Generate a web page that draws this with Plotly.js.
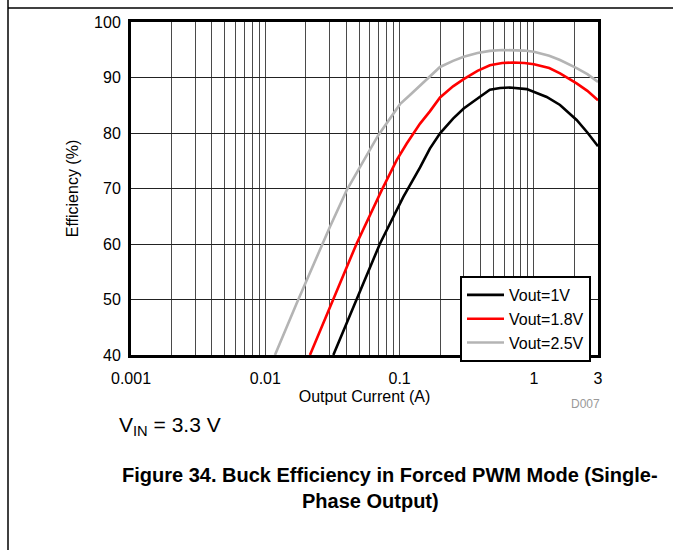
<!DOCTYPE html>
<html>
<head>
<meta charset="utf-8">
<script src="https://cdn.plot.ly/plotly-3.0.1.min.js"></script>
<style>
  html, body { margin: 0; padding: 0; background: #fff; }
  #chart { width: 673px; height: 550px; }
</style>
</head>
<body>
<div id="chart"></div>
<script>
// ---- data ----
const seriesNames = ["Vout=1V", "Vout=1.8V", "Vout=2.5V"];

const x_1V = [0.0321, 0.0479, 0.0715, 0.1066, 0.142, 0.168, 0.2, 0.25, 0.3, 0.35, 0.397, 0.47, 0.56, 0.66, 0.884, 1.245, 1.565, 2.08, 2.5, 3];
const y_1V = [40, 49.9, 60.1, 68.5, 73.8, 77.2, 79.95, 82.6, 84.4, 85.6, 86.6, 87.8, 88.1, 88.2, 87.9, 86.5, 85.05, 82.35, 80.1, 77.6];

const x_18V = [0.0215, 0.0312, 0.0479, 0.0736, 0.0951, 0.113, 0.142, 0.168, 0.2, 0.25, 0.3, 0.38, 0.47, 0.58, 0.7, 0.85, 1.0, 1.3, 1.565, 2.08, 2.5, 3];
const y_18V = [40, 49.3, 60.1, 69.7, 75.1, 78.1, 81.7, 83.9, 86.4, 88.4, 89.7, 91.2, 92.2, 92.6, 92.7, 92.6, 92.4, 91.7, 90.75, 88.95, 87.6, 85.9];

const x_25V = [0.0118, 0.0171, 0.0303, 0.0404, 0.0694, 0.1007, 0.12, 0.142, 0.168, 0.2, 0.25, 0.3, 0.38, 0.47, 0.58, 0.7, 0.85, 1.0, 1.3, 1.565, 2.08, 2.5, 3];
const y_25V = [40, 49.3, 63.1, 69.7, 79.6, 85.2, 86.9, 88.5, 90.2, 91.9, 93.0, 93.75, 94.4, 94.8, 94.95, 94.95, 94.85, 94.65, 93.9, 93.15, 91.7, 90.6, 89.2];

const xTickVals = [0.001, 0.01, 0.1, 1, 3];
const xTickText = ["0.001", "0.01", "0.1", "1", "3"];
const xMinorGridVals = [0.002,0.003,0.004,0.005,0.006,0.007,0.008,0.009,
                        0.02,0.03,0.04,0.05,0.06,0.07,0.08,0.09,
                        0.2,0.3,0.4,0.5,0.6,0.7,0.8,0.9,
                        2];
const yTickVals = [40, 50, 60, 70, 80, 90, 100];
const yTickText = ["40", "50", "60", "70", "80", "90", "100"];

const xTitle = "Output Current (A)";
const yTitle = "Efficiency (%)";
const vinText = "V<sub>IN</sub> = 3.3 V";
const captionLine1 = "Figure 34. Buck Efficiency in Forced PWM Mode (Single-";
const captionLine2 = "Phase Output)";
const codeText = "D007";

// ---- build chart ----
const colors = ["#000000", "#ff0000", "#b4b4b4"];
const xs = [x_1V, x_18V, x_25V];
const ys = [y_1V, y_18V, y_25V];

const traces = seriesNames.map((n, i) => ({
  type: "scatter", mode: "lines", name: n,
  x: xs[i], y: ys[i],
  line: { color: colors[i], width: 2.6, shape: "linear" }
}));

const FONT = "Liberation Sans, Arial, sans-serif";
const L = 131, R = 75, T = 22, B = 195;
const W = 673, H = 550;
const pw = W - L - R, ph = H - T - B;
const px = v => (v - L) / pw;          // pixel -> paper x
const py = v => (H - B - v) / ph;      // pixel -> paper y

const layout = {
  width: W, height: H,
  margin: { l: L, r: R, t: T, b: B, pad: 0 },
  paper_bgcolor: "#ffffff", plot_bgcolor: "#ffffff",
  font: { family: FONT, size: 16, color: "#000" },
  showlegend: true,
  legend: {
    x: px(460), y: py(276), xanchor: "left", yanchor: "top",
    bgcolor: "#ffffff", bordercolor: "#000", borderwidth: 2,
    font: { family: FONT, size: 16, color: "#000" },
    tracegroupgap: 0, itemwidth: 37
  },
  xaxis: {
    type: "log", range: [Math.log10(0.001), Math.log10(3)],
    tickmode: "array", tickvals: xTickVals, ticktext: xTickText,
    ticks: "", showgrid: true, gridcolor: "#4a4a4a", gridwidth: 1,
    minor: { tickmode: "array", tickvals: xMinorGridVals, ticks: "",
             showgrid: true, gridcolor: "#4a4a4a", gridwidth: 1 },
    showline: true, linecolor: "#000", linewidth: 3, mirror: true,
    zeroline: false, tickfont: { family: FONT, size: 16 }, ticklabelstandoff: 7,
    title: { text: xTitle, font: { family: FONT, size: 16 }, standoff: 5 },
    automargin: false, fixedrange: true
  },
  yaxis: {
    range: [40, 100], tickmode: "array", tickvals: yTickVals, ticktext: yTickText,
    ticks: "", showgrid: true, gridcolor: "#222", gridwidth: 1,
    showline: true, linecolor: "#000", linewidth: 3, mirror: true,
    zeroline: false, tickfont: { family: FONT, size: 16 }, ticklabelstandoff: 4,
    title: { text: yTitle, font: { family: FONT, size: 16 }, standoff: 12 },
    automargin: false, fixedrange: true
  },
  shapes: [
    { type: "line", xref: "paper", yref: "paper", x0: px(8), x1: px(8), y0: py(0), y1: py(550),
      line: { color: "#000", width: 1.5 } },
    { type: "line", xref: "paper", yref: "paper", x0: px(8), x1: px(673), y0: py(8), y1: py(8),
      line: { color: "#000", width: 1.5 } }
  ],
  annotations: [
    { text: codeText, xref: "paper", yref: "paper", x: px(585), y: py(404),
      xanchor: "center", yanchor: "middle", showarrow: false,
      font: { family: FONT, size: 12, color: "#999" } },
    { text: vinText, xref: "paper", yref: "paper", x: px(117), y: py(426),
      xanchor: "left", yanchor: "middle", showarrow: false,
      font: { family: FONT, size: 21, color: "#000" } },
    { text: "<b>" + captionLine1 + "</b>", xref: "paper", yref: "paper", x: px(390), y: py(475),
      xanchor: "center", yanchor: "middle", showarrow: false,
      font: { family: FONT, size: 20, color: "#000" } },
    { text: "<b>" + captionLine2 + "</b>", xref: "paper", yref: "paper", x: px(370), y: py(501),
      xanchor: "center", yanchor: "middle", showarrow: false,
      font: { family: FONT, size: 20, color: "#000" } }
  ]
};

Plotly.newPlot("chart", traces, layout, { displayModeBar: false, staticPlot: true });
</script>
</body>
</html>
